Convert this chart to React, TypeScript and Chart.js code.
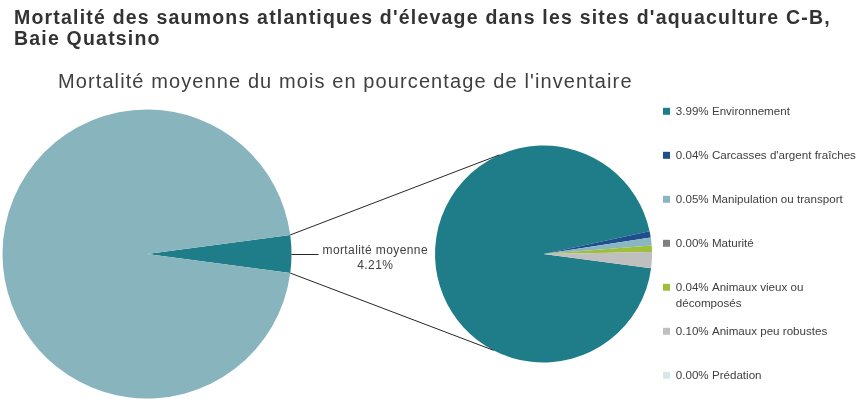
import React, { useEffect, useRef } from 'react';
import { Chart, registerables } from 'chart.js';

Chart.register(...registerables);

const FONT = "'Liberation Sans', Arial, Helvetica, sans-serif";

const titleLines = [
  "Mortalité des saumons atlantiques d'élevage dans les sites d'aquaculture C-B,",
  'Baie Quatsino',
];
const subtitleText = "Mortalité moyenne du mois en pourcentage de l'inventaire";

const overviewLabels = ['mortalité moyenne', 'inventaire restant'];
const overviewValues = [4.21, 95.79];
const overviewColors = ['#1E7D88', '#87B4BD'];

const detailCategories = [
  'Environnement',
  "Carcasses d'argent fraîches",
  'Manipulation ou transport',
  'Maturité',
  ['Animaux vieux ou', 'décomposés'],
  'Animaux peu robustes',
  'Prédation',
];
const detailValues = [3.99, 0.04, 0.05, 0.0, 0.04, 0.1, 0.0];
const detailColors = ['#1E7D88', '#1F4E8C', '#8AB6C1', '#7F7F7F', '#9FBE3B', '#BFBFBF', '#D6E7E7'];

const W = 862;
const H = 440;

export default function App() {
  const leftCanvas = useRef<HTMLCanvasElement | null>(null);
  const rightCanvas = useRef<HTMLCanvasElement | null>(null);

  useEffect(() => {
    if (!leftCanvas.current || !rightCanvas.current) return;
    const total = overviewValues.reduce((a, b) => a + b, 0);
    const sliceDeg = (overviewValues[0] / total) * 360;

    const left = new Chart(leftCanvas.current, {
      type: 'pie',
      data: {
        labels: overviewLabels,
        datasets: [{ data: overviewValues, backgroundColor: overviewColors, borderWidth: 0 }],
      },
      options: {
        animation: false,
        responsive: false,
        events: [],
        rotation: 90 - sliceDeg / 2,
        layout: { padding: { left: 2.5, right: 570.5, top: 109.5, bottom: 41.5 } },
        plugins: { legend: { display: false }, tooltip: { enabled: false } },
      },
    } as any);

    const connectorPlugin = {
      id: 'pieOfPieConnector',
      afterDraw(chart: any) {
        const la: any = left.getDatasetMeta(0).data[0];
        const ra: any = chart.getDatasetMeta(0).data[0];
        if (!la || !ra) return;
        const ctx = chart.ctx;
        const R = la.outerRadius;
        const r = ra.outerRadius;
        const topA = (-114 * Math.PI) / 180;
        const botA = (117.4 * Math.PI) / 180;
        ctx.save();
        ctx.strokeStyle = '#262626';
        ctx.lineWidth = 1;
        ctx.beginPath();
        ctx.moveTo(la.x + R * Math.cos(la.startAngle), la.y + R * Math.sin(la.startAngle));
        ctx.lineTo(ra.x + r * Math.cos(topA), ra.y + r * Math.sin(topA));
        ctx.moveTo(la.x + R * Math.cos(la.endAngle), la.y + R * Math.sin(la.endAngle));
        ctx.lineTo(ra.x + r * Math.cos(botA), ra.y + r * Math.sin(botA));
        const mid = (la.startAngle + la.endAngle) / 2;
        const mx = la.x + R * Math.cos(mid);
        const my = la.y + R * Math.sin(mid) + 0.5;
        ctx.moveTo(mx, my);
        ctx.lineTo(mx + 27, my);
        ctx.stroke();
        ctx.font = `12px ${FONT}`;
        try {
          (ctx as any).letterSpacing = '0.4px';
        } catch (e) {
          /* ignore */
        }
        ctx.fillStyle = '#404040';
        ctx.textBaseline = 'middle';
        ctx.textAlign = 'center';
        const l1 = overviewLabels[0];
        const l2 = `${overviewValues[0].toFixed(2)}%`;
        const w1 = ctx.measureText(l1).width;
        const cx = mx + 31 + w1 / 2;
        ctx.fillText(l1, cx, my - 4);
        ctx.fillText(l2, cx, my + 11);
        ctx.restore();
      },
    };

    const right = new Chart(rightCanvas.current, {
      type: 'pie',
      data: {
        labels: detailCategories,
        datasets: [{ data: detailValues, backgroundColor: detailColors, borderWidth: 0 }],
      },
      options: {
        animation: false,
        responsive: false,
        events: [],
        rotation: 97.5,
        layout: { padding: { left: 435, right: 0, top: 84, bottom: 16 } },
        plugins: {
          tooltip: { enabled: false },
          legend: {
            position: 'right',
            align: 'center',
            maxWidth: 210,
            labels: {
              boxWidth: 7,
              boxHeight: 7,
              padding: 11,
              color: '#404040',
              font: { size: 11.6, family: FONT, lineHeight: '16.5px' },
              generateLabels: (chart: any) => {
                const ds = chart.data.datasets[0];
                return chart.data.labels.map((label: any, i: number) => {
                  const pct = `${Number(ds.data[i]).toFixed(2)}%`;
                  const lines = Array.isArray(label)
                    ? [`${pct} ${label[0]}`, ...label.slice(1)]
                    : [`${pct} ${label}`, ''];
                  return {
                    text: lines,
                    fillStyle: ds.backgroundColor[i],
                    strokeStyle: ds.backgroundColor[i],
                    lineWidth: 0,
                    hidden: false,
                    index: i,
                    fontColor: '#404040',
                  };
                });
              },
            },
          },
        },
      },
      plugins: [connectorPlugin],
    } as any);

    return () => {
      right.destroy();
      left.destroy();
    };
  }, []);

  const canvasStyle: React.CSSProperties = {
    position: 'absolute',
    left: 0,
    top: 0,
    width: W,
    height: H,
  };

  return (
    <div
      style={{
        position: 'absolute',
        left: 0,
        top: 0,
        width: 862,
        height: 403,
        overflow: 'hidden',
        background: '#ffffff',
        fontFamily: FONT,
      }}
    >
      <canvas ref={leftCanvas} width={W} height={H} style={canvasStyle} />
      <canvas ref={rightCanvas} width={W} height={H} style={canvasStyle} />
      <div
        style={{
          position: 'absolute',
          left: 14,
          top: 6.7,
          fontSize: 19.5,
          lineHeight: '21px',
          letterSpacing: '1.2px',
          fontWeight: 'bold',
          color: '#333333',
          whiteSpace: 'nowrap',
        }}
      >
        {titleLines.map((t, i) => (
          <div key={i}>{t}</div>
        ))}
      </div>
      <div
        style={{
          position: 'absolute',
          left: 58,
          top: 68.8,
          fontSize: 20,
          lineHeight: '24px',
          letterSpacing: '1.1px',
          color: '#404040',
          whiteSpace: 'nowrap',
        }}
      >
        {subtitleText}
      </div>
    </div>
  );
}
